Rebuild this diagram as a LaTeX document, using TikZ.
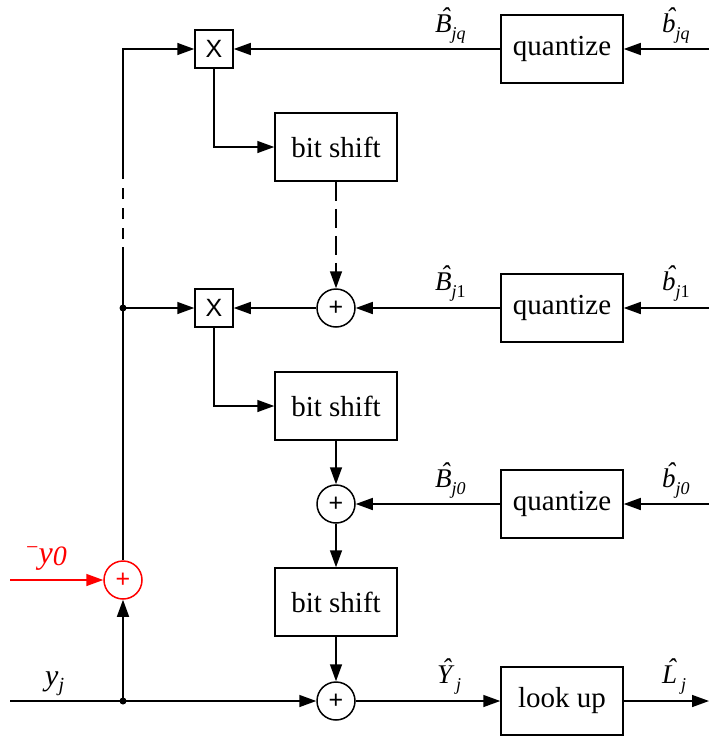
\documentclass[tikz,border=0pt]{standalone}
\usepackage{fontspec}
\setmainfont{Liberation Serif}
\newfontfamily\arialf{Liberation Sans}
\usetikzlibrary{arrows.meta}
\newcommand{\hatit}[1]{{\itshape\accent"02C6 #1}}
\newcommand{\hsub}[2]{\hatit{#1}\raisebox{-7pt}{\fontsize{18}{18}\selectfont #2}}
\tikzset{
  box/.style={draw, line width=1.5pt, minimum width=122pt, minimum height=68pt, inner sep=0pt, font=\fontsize{29}{31}\selectfont},
  mul/.style={draw, line width=1.5pt, minimum size=38pt, inner sep=0pt, font=\arialf\fontsize{25}{25}\selectfont},
  sumc/.style={draw, circle, line width=1.5pt, minimum size=38pt, inner sep=0pt, font=\arialf\fontsize{25}{25}\selectfont},
  wire/.style={line width=1.5pt},
  conn/.style={line width=1.5pt, -{Triangle[length=17pt,width=12pt]}},
  lab/.style={font=\fontsize{27}{28}\selectfont, inner sep=0pt, anchor=base west},
}
\begin{document}
\begin{tikzpicture}[x=1pt,y=-1pt]
\useasboundingbox (0,0) rectangle (709,736);
% nodes
\node[mul] (mq) at (214,49) {X};
\node[box] (qq) at (562,49) {quantize};
\node[box] (bs1) at (336,147) {bit shift};
\node[sumc] (p1) at (336,308) {+};
\node[mul] (m1) at (214,308) {X};
\node[box] (q1) at (562,308) {quantize};
\node[box] (bs2) at (336,406) {bit shift};
\node[sumc] (p0) at (336,504) {+};
\node[box] (q0) at (562,504) {quantize};
\node[box] (bs3) at (336,602) {bit shift};
\node[sumc] (pY) at (336,701) {+};
\node[box] (lu) at (562,701) {look up};
\node[sumc, red] (pr) at (123,580) {+};
\coordinate (d1) at (123,308);
\coordinate (d2) at (123,701);
\coordinate (inq) at (709,49);
\coordinate (in1) at (709,308);
\coordinate (in0) at (709,504);
\coordinate (out) at (709,701);
\coordinate (yin) at (10,701);
\coordinate (rin) at (10,580);
\coordinate (ca) at (123,247);
\coordinate (cb) at (123,176);
% connectors
\draw[conn] (inq) -- (qq);
\draw[conn] (qq) -- (mq);
\draw[conn] (mq) |- (bs1);
\draw[conn, dash pattern=on 19pt off 8pt] (bs1) -- (p1);
\draw[conn] (in1) -- (q1);
\draw[conn] (q1) -- (p1);
\draw[conn] (p1) -- (m1);
\draw[conn] (d1) -- (m1);
\draw[conn] (m1) |- (bs2);
\draw[conn] (bs2) -- (p0);
\draw[conn] (in0) -- (q0);
\draw[conn] (q0) -- (p0);
\draw[conn] (p0) -- (bs3);
\draw[conn] (bs3) -- (pY);
\draw[conn] (yin) -- (pY);
\draw[conn] (pY) -- (lu);
\draw[conn] (lu) -- (out);
\draw[conn] (d2) -- (pr);
\draw[conn, red] (rin) -- (pr);
\draw[wire] (pr) -- (ca);
\draw[wire, dash pattern=on 11pt off 9pt, dash phase=-8pt] (ca) -- (cb);
\draw[conn] (cb) |- (mq);
\fill (d1) circle (3.5pt);
\fill (d2) circle (3.5pt);
% labels
\node[lab] (lBq) at (435,32) {\hsub{B}{\itshape jq}};
\node[lab] (lbq) at (662,32) {\hsub{b}{\itshape jq}};
\node[lab] (lB1) at (435,290) {\hsub{B}{{\itshape j}1}};
\node[lab] (lb1) at (662,290) {\hsub{b}{{\itshape j}1}};
\node[lab] (lB0) at (435,487) {\hsub{B}{\itshape j0}};
\node[lab] (lb0) at (662,487) {\hsub{b}{\itshape j0}};
\node[lab] (lY) at (437,683) {\hsub{Y}{\kern4pt\itshape j}};
\node[lab] (lL) at (662,683) {\hsub{L}{\kern4pt\itshape j}};
\node[lab, font=\fontsize{30}{30}\selectfont] (lyj) at (45,685) {\textit{y}\raisebox{-6pt}{\fontsize{20}{20}\selectfont\itshape j}};
\node[lab, red, font=\fontsize{32}{32}\selectfont] (ly0) at (26,563) {\raisebox{9pt}{\fontsize{22}{22}\selectfont −}\textit{y}\raisebox{-2pt}{\fontsize{28}{28}\selectfont\itshape 0}};
\end{tikzpicture}
\end{document}
